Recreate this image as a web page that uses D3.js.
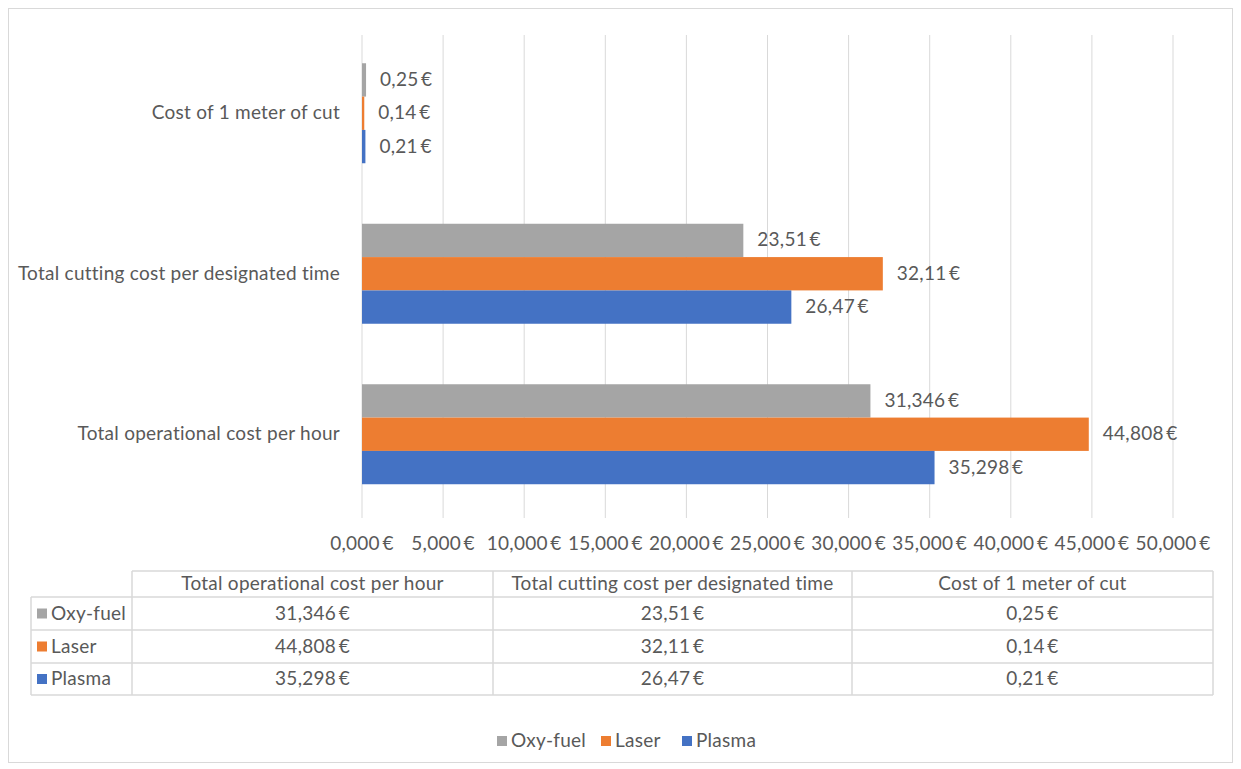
<!DOCTYPE html>
<html lang="en">
<head>
<meta charset="UTF-8">
<title>Cutting cost comparison</title>
<script src="https://d3js.org/d3.v7.min.js"></script>
<style>
  body { margin: 0; background: #fff; }
  svg text { font-family: Lato, "Open Sans", sans-serif; fill: #595959; letter-spacing: 0.25px; }
</style>
</head>
<body>
<svg id="chart" width="1241" height="769"></svg>
<script>
// data
const categories = ["Cost of 1 meter of cut", "Total cutting cost per designated time", "Total operational cost per hour"];
const tableColumns = ["Total operational cost per hour", "Total cutting cost per designated time", "Cost of 1 meter of cut"];
const seriesNames = ["Oxy-fuel", "Laser", "Plasma"];
const seriesColors = ["#a5a5a5", "#ed7d31", "#4472c4"];
const oxyFuel = [0.25, 23.51, 31.346];
const laser = [0.14, 32.11, 44.808];
const plasma = [0.21, 26.47, 35.298];
const labelDecimals = [2, 2, 3];
const xTicks = [0, 5, 10, 15, 20, 25, 30, 35, 40, 45, 50];

const series = [oxyFuel, laser, plasma];
const fmt = (v, d) => v.toFixed(d).replace(".", ",") + "\u2009€";
const FS = 19;

const svg = d3.select("#chart");

// outer frame
svg.append("rect")
  .attr("x", 8.5).attr("y", 8.5)
  .attr("width", 1224).attr("height", 754)
  .attr("fill", "#fff").attr("stroke", "#d9d9d9");

const plot = { left: 362, right: 1173, top: 35, bottom: 518 };

const x = d3.scaleLinear().domain([0, 50]).range([plot.left, plot.right]);
const y = d3.scaleBand().domain(categories).range([33, 514.5]).paddingInner(0.377).paddingOuter(0.1885);
const ySub = d3.scaleBand().domain(seriesNames).range([0, y.bandwidth()]);

// gridlines
svg.append("g").selectAll("line")
  .data(xTicks)
  .join("line")
  .attr("x1", d => x(d)).attr("x2", d => x(d))
  .attr("y1", plot.top).attr("y2", plot.bottom)
  .attr("stroke", "#d9d9d9").attr("stroke-width", 1);

// x axis labels
svg.append("g").selectAll("text")
  .data(xTicks)
  .join("text")
  .attr("x", d => x(d))
  .attr("y", 550)
  .attr("text-anchor", "middle")
  .attr("font-size", FS)
  .text(d => fmt(d, 3));

// category labels
svg.append("g").selectAll("text")
  .data(categories)
  .join("text")
  .attr("x", 340)
  .attr("y", d => y(d) + y.bandwidth() / 2 + 6)
  .attr("text-anchor", "end")
  .attr("font-size", FS)
  .text(d => d);

// bars and value labels
series.forEach((vals, si) => {
  const g = svg.append("g");
  g.selectAll("rect")
    .data(vals)
    .join("rect")
    .attr("x", x(0))
    .attr("y", (d, i) => y(categories[i]) + ySub(seriesNames[si]))
    .attr("width", d => Math.max(x(d) - x(0), 1.5))
    .attr("height", ySub.bandwidth())
    .attr("fill", seriesColors[si]);
  g.selectAll("text")
    .data(vals)
    .join("text")
    .attr("x", d => Math.max(x(d), x(0) + 2) + 14)
    .attr("y", (d, i) => y(categories[i]) + ySub(seriesNames[si]) + ySub.bandwidth() / 2 + 6)
    .attr("font-size", FS)
    .text((d, i) => fmt(d, labelDecimals[i]));
});

// data table
const colX = [31, 132, 493, 852, 1213];
const rowY = [571, 597, 630, 663, 695];
const tbl = svg.append("g").attr("stroke", "#d9d9d9").attr("stroke-width", 1.5);
rowY.forEach((ry, ri) => {
  tbl.append("line")
    .attr("x1", ri === 0 ? colX[1] : colX[0]).attr("x2", colX[4])
    .attr("y1", ry).attr("y2", ry);
});
colX.forEach((cx, ci) => {
  tbl.append("line")
    .attr("x1", cx).attr("x2", cx)
    .attr("y1", ci === 0 ? rowY[1] : rowY[0]).attr("y2", rowY[4]);
});

// header
svg.append("g").selectAll("text")
  .data(tableColumns)
  .join("text")
  .attr("x", (d, i) => (colX[i + 1] + colX[i + 2]) / 2)
  .attr("y", (rowY[0] + rowY[1]) / 2 + 6)
  .attr("text-anchor", "middle")
  .attr("font-size", FS)
  .text(d => d);

// table rows
seriesNames.forEach((name, si) => {
  const cy = (rowY[si + 1] + rowY[si + 2]) / 2;
  svg.append("rect")
    .attr("x", 37).attr("y", cy - 5)
    .attr("width", 10).attr("height", 10)
    .attr("fill", seriesColors[si]);
  svg.append("text")
    .attr("x", 51).attr("y", cy + 6)
    .attr("font-size", FS)
    .text(name);
  // columns in table order: operational, cutting, meter
  const vals = [series[si][2], series[si][1], series[si][0]];
  const decs = [labelDecimals[2], labelDecimals[1], labelDecimals[0]];
  vals.forEach((v, ci) => {
    svg.append("text")
      .attr("x", (colX[ci + 1] + colX[ci + 2]) / 2)
      .attr("y", cy + 6)
      .attr("text-anchor", "middle")
      .attr("font-size", FS)
      .text(fmt(v, decs[ci]));
  });
});

// legend
const legendX = [497, 601, 682];
seriesNames.forEach((name, si) => {
  svg.append("rect")
    .attr("x", legendX[si]).attr("y", 736)
    .attr("width", 10).attr("height", 10)
    .attr("fill", seriesColors[si]);
  svg.append("text")
    .attr("x", legendX[si] + 14).attr("y", 747)
    .attr("font-size", FS)
    .text(name);
});
</script>
</body>
</html>
